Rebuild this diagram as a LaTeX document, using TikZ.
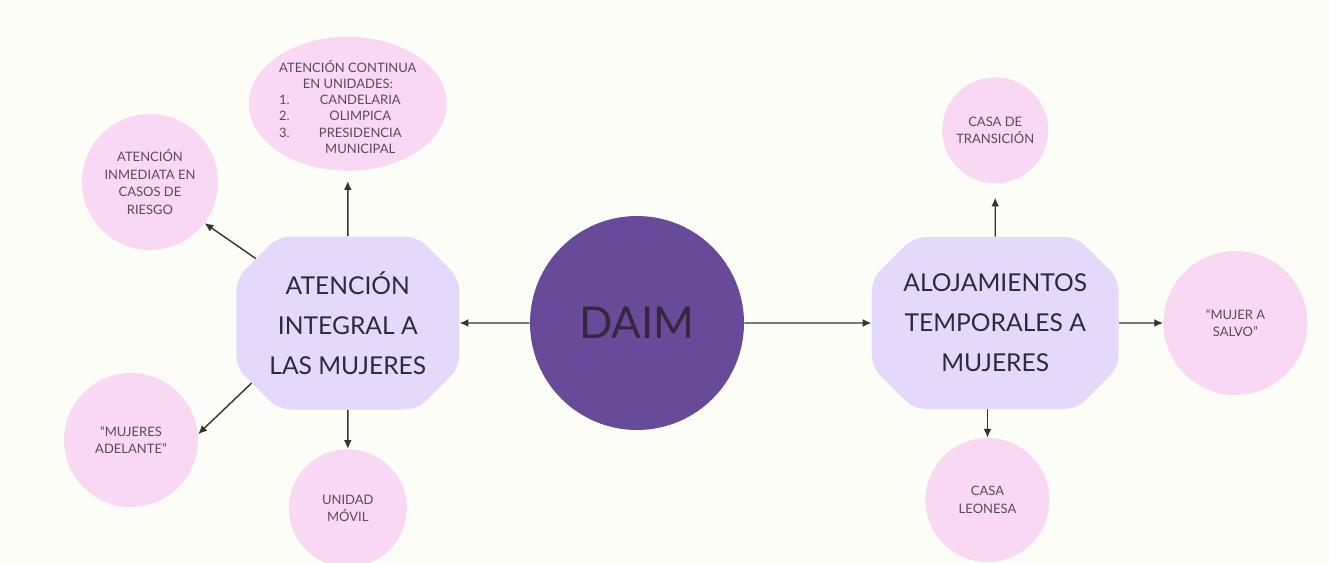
\documentclass[tikz,border=0pt]{standalone}
\usepackage{fontspec}
\setmainfont{Lato}
\usetikzlibrary{arrows.meta,positioning,shapes.geometric,shapes.misc}

\definecolor{bgcream}{HTML}{FDFDF8}
\definecolor{hubpurple}{HTML}{684B98}
\definecolor{hubtext}{HTML}{33283F}
\definecolor{arealilac}{HTML}{E5D9FB}
\definecolor{areatext}{HTML}{2F2A3A}
\definecolor{leafpink}{HTML}{F9D8F4}
\definecolor{leaftext}{HTML}{5A4A5C}
\definecolor{arrgray}{HTML}{333333}

\begin{document}
\begin{tikzpicture}[
  hub/.style={circle, fill=hubpurple, minimum size=4.28cm, inner sep=0pt, font=\fontsize{25}{30}\selectfont, text=hubtext},
  area/.style={chamfered rectangle, chamfered rectangle xsep=0.42cm, chamfered rectangle ysep=0.42cm, rounded corners=7pt, fill=arealilac, align=center, inner sep=0pt, font=\fontsize{14}{22.7}\selectfont, text=areatext},
  leaf/.style={circle, fill=leafpink, inner sep=0pt, align=center, font=\fontsize{7.4}{9.9}\selectfont, text=leaftext},
  arr/.style={-{Latex[length=5pt,width=4.5pt]}, line width=0.8pt, draw=arrgray}
]
\fill[bgcream] (0,0) rectangle (26.58,-11.26);
\useasboundingbox (0,0) rectangle (26.58,-11.26);

\node[hub] (daim) at (12.74,-6.46) {DAIM};
\node[area, left=1.4cm of daim, minimum width=4.46cm, minimum height=3.46cm] (att) {ATENCIÓN\\INTEGRAL A\\LAS MUJERES};
\node[area, right=2.54cm of daim, minimum width=4.94cm, minimum height=3.44cm] (aloj) {ALOJAMIENTOS\\TEMPORALES A\\MUJERES};

% satellites of the left box
\node[leaf, ellipse, above=1.3cm of att, minimum width=3.96cm, minimum height=2.68cm] (cont) {%
  \raisebox{-4.8pt}[0pt][0pt]{\makebox[0pt]{\renewcommand{\arraystretch}{0.93}%
  \begin{tabular}{@{}l@{\hspace{1.1em}}c@{}}
  \multicolumn{2}{@{}c@{}}{ATENCIÓN CONTINUA}\\
  \multicolumn{2}{@{}c@{}}{EN UNIDADES:}\\
  1. & CANDELARIA\\
  2. & OLIMPICA\\
  3. & PRESIDENCIA\\
     & MUNICIPAL
  \end{tabular}}}};
\node[leaf, minimum size=2.72cm] (riesgo) at (3.0,-3.64) {ATENCIÓN\\INMEDIATA EN\\CASOS DE\\RIESGO};
\node[leaf, minimum size=2.68cm] (adel) at (2.62,-8.8) {“MUJERES\\ADELANTE”};
\node[leaf, minimum size=2.36cm, below=0.78cm of att] (movil) {UNIDAD\\MÓVIL};

% satellites of the right box
\node[leaf, minimum size=2.12cm, above=1.06cm of aloj] (trans) {CASA DE\\TRANSICIÓN};
\node[leaf, minimum size=2.48cm] (leon) at (19.75,-10.0) {CASA\\LEONESA};
\node[leaf, minimum size=2.88cm, right=0.88cm of aloj] (salvo) {“MUJER A\\SALVO”};

\draw[arr] (daim) -- (att);
\draw[arr] (daim) -- (aloj);
\draw[arr, shorten >=0.2cm] (att) -- (cont);
\draw[arr] (att.145) -- (riesgo.-37);
\draw[arr] (att.212) -- (adel.5);
\draw[arr] (att) -- (movil);
\draw[arr, shorten >=0.28cm] (aloj) -- (trans);
\draw[arr] (aloj) -- (salvo);
\draw[arr] (aloj.south -| leon) -- (leon);

\end{tikzpicture}
\end{document}
